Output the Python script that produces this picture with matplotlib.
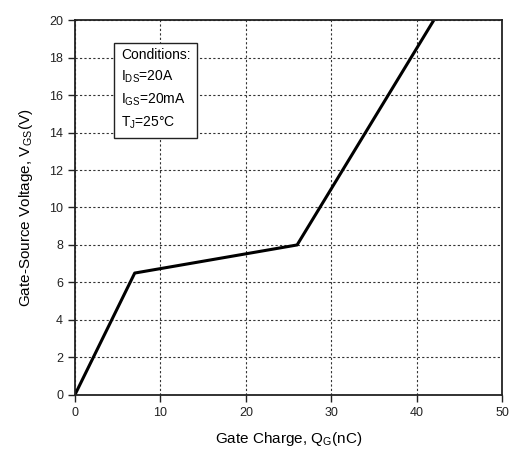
import matplotlib.pyplot as plt

plt.rcParams['font.family'] = ['Liberation Sans', 'DejaVu Sans']

# Gate charge curve (breakpoints)
qg = [0, 7, 26, 42]
vgs = [0, 6.5, 8, 20]

x_ticks = [0, 10, 20, 30, 40, 50]
y_ticks = [0, 2, 4, 6, 8, 10, 12, 14, 16, 18, 20]

fig = plt.figure(figsize=(5.13, 4.57), dpi=100)
ax = fig.add_axes([0.146, 0.136, 0.833, 0.820])

ax.plot(qg, vgs, color='black', lw=2.2, solid_capstyle='butt')

ax.set_xlim(0, 50)
ax.set_ylim(0, 20)
ax.set_xticks(x_ticks)
ax.set_yticks(y_ticks)
ax.tick_params(direction='out', length=5, width=1, labelsize=9, colors='#222222')
ax.grid(True, color='#333333', ls=(0, (2, 2)), lw=0.8)
for s in ax.spines.values():
    s.set_linewidth(1.3)
    s.set_color('#222222')

ax.set_xlabel('Gate Charge, Q$_\\mathregular{G}$(nC)', fontsize=11, labelpad=8)
ax.set_ylabel('Gate-Source Voltage, V$_\\mathregular{GS}$(V)', fontsize=11, labelpad=10)

cond = ('Conditions:\n'
        'I$_\\mathregular{DS}$=20A\n'
        'I$_\\mathregular{GS}$=20mA\n'
        'T$_\\mathregular{J}$=25\u00b0C')
ax.text(0.108, 0.925, cond, transform=ax.transAxes, fontsize=10, va='top', ha='left',
        linespacing=1.55,
        bbox=dict(boxstyle='square,pad=0.5', fc='white', ec='#222222', lw=1))

fig.savefig('out.png', dpi=100)
